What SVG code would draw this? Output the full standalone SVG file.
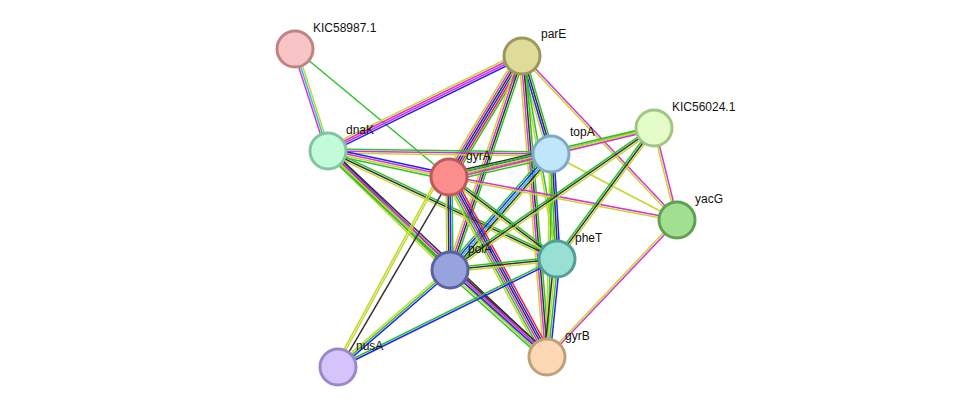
<svg xmlns="http://www.w3.org/2000/svg" width="976" height="413" viewBox="0 0 976 413">
<style>
line{stroke-width:1.5}
.g{stroke:#2cc22c}.r{stroke:#ff2222}.b{stroke:#2222ff}.k{stroke:#333}.m{stroke:#d633d6}.y{stroke:#c4d630}.c{stroke:#30c0d8}
circle{stroke-width:3}
text{font-family:"Liberation Sans",Arial,sans-serif;font-size:12px;fill:#111}
</style>
<rect width="976" height="413" fill="#fff"/>
<g id="edges">
<g transform="translate(295,49) rotate(72.1)"><line x2="107" y1="-2" y2="-2" class="y"/><line x2="107" class="c"/><line x2="107" y1="2" y2="2" class="m"/></g>
<g transform="translate(295,49) rotate(39.7)"><line x2="200" class="g"/></g>
<g transform="translate(522,56) rotate(153.9)"><line x2="216" y1="-2" y2="-2" class="b"/><line x2="216" class="m"/><line x2="216" y1="2" y2="2" class="m"/><line x2="216" y1="4" y2="4" class="y"/></g>
<g transform="translate(522,56) rotate(121.1)"><line x2="141" y1="-5" y2="-5" class="g"/><line x2="141" y1="-3" y2="-3" class="r"/><line x2="141" y1="-1" y2="-1" class="b"/><line x2="141" y1="1" y2="1" class="k"/><line x2="141" y1="3" y2="3" class="m"/><line x2="141" y1="5" y2="5" class="y"/></g>
<g transform="translate(522,56) rotate(73.5)"><line x2="102" y1="-3" y2="-3" class="g"/><line x2="102" y1="-1" y2="-1" class="k"/><line x2="102" y1="1" y2="1" class="b"/><line x2="102" y1="3" y2="3" class="y"/></g>
<g transform="translate(522,56) rotate(108.6)"><line x2="226" y1="-3" y2="-3" class="g"/><line x2="226" y1="-1" y2="-1" class="k"/><line x2="226" y1="1" y2="1" class="m"/><line x2="226" y1="3" y2="3" class="y"/></g>
<g transform="translate(522,56) rotate(80.2)"><line x2="206" y1="-1" y2="-1" class="g"/><line x2="206" y1="1" y2="1" class="y"/></g>
<g transform="translate(522,56) rotate(85.3)"><line x2="302" y1="-3" y2="-3" class="g"/><line x2="302" y1="-1" y2="-1" class="k"/><line x2="302" y1="1" y2="1" class="m"/><line x2="302" y1="3" y2="3" class="y"/></g>
<g transform="translate(522,56) rotate(46.6)"><line x2="226" y1="-1" y2="-1" class="m"/><line x2="226" y1="1" y2="1" class="y"/></g>
<g transform="translate(328,151) rotate(0.8)"><line x2="223" y1="-2" y2="-2" class="g"/><line x2="223" class="m"/><line x2="223" y1="2" y2="2" class="y"/></g>
<g transform="translate(328,151) rotate(12.1)"><line x2="124" y1="-3" y2="-3" class="b"/><line x2="124" y1="-1" y2="-1" class="m"/><line x2="124" y1="1" y2="1" class="y"/><line x2="124" y1="3" y2="3" class="g"/></g>
<g transform="translate(328,151) rotate(44.3)"><line x2="170" y1="-3" y2="-3" class="b"/><line x2="170" y1="-1" y2="-1" class="k"/><line x2="170" y1="1" y2="1" class="g"/><line x2="170" y1="3" y2="3" class="y"/></g>
<g transform="translate(328,151) rotate(25.3)"><line x2="253" y1="-2" y2="-2" class="g"/><line x2="253" class="k"/><line x2="253" y1="2" y2="2" class="y"/></g>
<g transform="translate(328,151) rotate(43.2)"><line x2="301" y1="-3" y2="-3" class="k"/><line x2="301" y1="-1" y2="-1" class="m"/><line x2="301" y1="1" y2="1" class="y"/><line x2="301" y1="3" y2="3" class="g"/></g>
<g transform="translate(449,177) rotate(-12.7)"><line x2="105" y1="-4" y2="-4" class="k"/><line x2="105" y1="-2" y2="-2" class="b"/><line x2="105" class="m"/><line x2="105" y1="2" y2="2" class="y"/><line x2="105" y1="4" y2="4" class="g"/></g>
<g transform="translate(450,270) rotate(-48.9)"><line x2="154" y1="-4" y2="-4" class="g"/><line x2="154" y1="-2" y2="-2" class="b"/><line x2="154" class="c"/><line x2="154" y1="2" y2="2" class="k"/><line x2="154" y1="4" y2="4" class="y"/></g>
<g transform="translate(551,154) rotate(86.7)"><line x2="105" y1="-3" y2="-3" class="b"/><line x2="105" y1="-1" y2="-1" class="k"/><line x2="105" y1="1" y2="1" class="g"/><line x2="105" y1="3" y2="3" class="y"/></g>
<g transform="translate(551,154) rotate(91.1)"><line x2="203" y1="-1" y2="-1" class="g"/><line x2="203" y1="1" y2="1" class="y"/></g>
<g transform="translate(551,154) rotate(-14.2)"><line x2="106" y1="-1" y2="-1" class="g"/><line x2="106" y1="1" y2="1" class="y"/></g>
<g transform="translate(551,154) rotate(27.6)"><line x2="142" class="y"/></g>
<g transform="translate(449,177) rotate(89.4)"><line x2="93" y1="-3" y2="-3" class="g"/><line x2="93" y1="-1" y2="-1" class="b"/><line x2="93" y1="1" y2="1" class="k"/><line x2="93" y1="3" y2="3" class="y"/></g>
<g transform="translate(449,177) rotate(37.2)"><line x2="136" y1="-2" y2="-2" class="g"/><line x2="136" class="k"/><line x2="136" y1="2" y2="2" class="y"/></g>
<g transform="translate(449,177) rotate(61.4)"><line x2="205" y1="-5" y2="-5" class="r"/><line x2="205" y1="-3" y2="-3" class="b"/><line x2="205" y1="-1" y2="-1" class="k"/><line x2="205" y1="1" y2="1" class="m"/><line x2="205" y1="3" y2="3" class="g"/><line x2="205" y1="5" y2="5" class="y"/></g>
<g transform="translate(449,177) rotate(10.7)"><line x2="232" y1="-1" y2="-1" class="m"/><line x2="232" y1="1" y2="1" class="y"/></g>
<g transform="translate(449,177) rotate(120.3)"><line x2="220" y1="-2" y2="-2" class="k"/></g>
<g transform="translate(449,177) rotate(118.5)"><line x2="216" y1="8" y2="8" class="y"/><line x2="216" y1="10" y2="10" class="y"/></g>
<g transform="translate(449,177) rotate(-13.4)"><line x2="211" y1="-2" y2="-2" class="g"/><line x2="211" class="y"/><line x2="211" y1="2" y2="2" class="m"/></g>
<g transform="translate(450,270) rotate(-34.8)"><line x2="248" y1="-2" y2="-2" class="g"/><line x2="248" class="k"/><line x2="248" y1="2" y2="2" class="y"/></g>
<g transform="translate(557,259) rotate(-53.5)"><line x2="163" y1="-2" y2="-2" class="g"/><line x2="163" class="k"/><line x2="163" y1="2" y2="2" class="y"/></g>
<g transform="translate(654,128) rotate(76)"><line x2="95" y1="-1" y2="-1" class="m"/><line x2="95" y1="1" y2="1" class="y"/></g>
<g transform="translate(450,270) rotate(-5.9)"><line x2="108" y1="-2" y2="-2" class="g"/><line x2="108" class="k"/><line x2="108" y1="2" y2="2" class="y"/></g>
<g transform="translate(450,270) rotate(41.9)"><line x2="130" y1="-4" y2="-4" class="k"/><line x2="130" y1="-2" y2="-2" class="m"/><line x2="130" class="b"/><line x2="130" y1="2" y2="2" class="y"/><line x2="130" y1="4" y2="4" class="g"/></g>
<g transform="translate(450,270) rotate(139.1)"><line x2="148" y1="-2" y2="-2" class="b"/><line x2="148" class="g"/><line x2="148" y1="2" y2="2" class="y"/></g>
<g transform="translate(557,259) rotate(95.8)"><line x2="98" y1="-3" y2="-3" class="b"/><line x2="98" y1="-1" y2="-1" class="g"/><line x2="98" y1="1" y2="1" class="y"/><line x2="98" y1="3" y2="3" class="k"/></g>
<g transform="translate(557,259) rotate(153.7)"><line x2="244" y1="-1" y2="-1" class="b"/><line x2="244" y1="1" y2="1" class="g"/></g>
<g transform="translate(677,220) rotate(133.5)"><line x2="189" y1="-1" y2="-1" class="m"/><line x2="189" y1="1" y2="1" class="y"/></g>
</g>
<g id="KIC58987.1"><circle cx="295" cy="49" r="18" fill="#f7c5c5" stroke="#c08383"/><text x="313" y="32">KIC58987.1</text></g>
<g id="parE"><circle cx="522" cy="56" r="18" fill="#dedc98" stroke="#9a985a"/><text x="541" y="38">parE</text></g>
<g id="KIC56024.1"><circle cx="654" cy="128" r="18" fill="#e4fdc8" stroke="#a2c484"/><text x="672" y="111">KIC56024.1</text></g>
<g id="dnaK"><circle cx="328" cy="151" r="18" fill="#c2fbd8" stroke="#82c4a2"/><text x="346" y="134">dnaK</text></g>
<g id="topA"><circle cx="551" cy="154" r="18" fill="#c0e6fa" stroke="#80a8c8"/><text x="570" y="136">topA</text></g>
<g id="gyrA"><circle cx="449" cy="177" r="18" fill="#fb8d8d" stroke="#c05858"/><text x="466" y="160">gyrA</text></g>
<g id="yacG"><circle cx="677" cy="220" r="18" fill="#a0e090" stroke="#60a050"/><text x="695" y="203">yacG</text></g>
<g id="pheT"><circle cx="557" cy="259" r="18" fill="#98dfd4" stroke="#50a098"/><text x="575" y="242">pheT</text></g>
<g id="polA"><circle cx="450" cy="270" r="18" fill="#98a2dd" stroke="#5a62a0"/><text x="468" y="253">polA</text></g>
<g id="nusA"><circle cx="338" cy="367" r="18" fill="#d4c4fb" stroke="#9a88c8"/><text x="356" y="350">nusA</text></g>
<g id="gyrB"><circle cx="547" cy="357" r="18" fill="#fdd8b4" stroke="#c0a078"/><text x="565" y="340">gyrB</text></g>
</svg>
